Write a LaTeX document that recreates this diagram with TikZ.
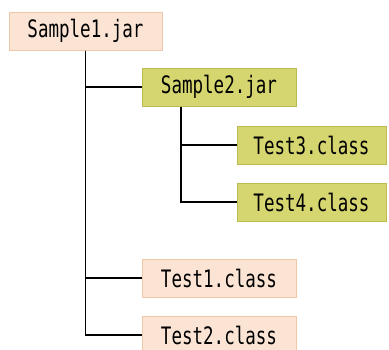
\documentclass[tikz,border=0pt]{standalone}
\usepackage{fontspec}
\newfontfamily\treefont[FakeStretch=0.73]{DejaVu Sans Mono}
\usepackage{xcolor}
\usepackage{tikz}
\definecolor{filetan}{RGB}{251,228,212}
\definecolor{filetanline}{RGB}{240,200,168}
\definecolor{jargreen}{RGB}{214,214,112}
\definecolor{jargreenline}{RGB}{188,188,78}

\begin{document}
\begin{tikzpicture}[
    x=1pt, y=-1pt,
    box/.style={rectangle, line width=1pt, minimum height=38pt, inner sep=0pt, font=\treefont\fontsize{24}{26}\selectfont},
    tanbox/.style={box, draw=filetanline, fill=filetan},
    greenbox/.style={box, draw=jargreenline, fill=jargreen},
    branch/.style={line width=1.3pt, black}
]
    \useasboundingbox (0,0) rectangle (389,349);
    \clip (0,0) rectangle (389,349);

    \node[tanbox, minimum width=153pt] (sample1) at (85.5,31) {Sample1.jar};
    \node[greenbox, minimum width=154pt] (sample2) at (219,87) {Sample2.jar};
    \node[greenbox, minimum width=149pt] (test3) at (311.5,145) {Test3.class};
    \node[greenbox, minimum width=149pt] (test4) at (311.5,202) {Test4.class};
    \node[tanbox, minimum width=154pt] (test1) at (219,278) {Test1.class};
    \node[tanbox, minimum width=154pt] (test2) at (219,335) {Test2.class};

    \coordinate (sample2root) at ([xshift=-38pt]sample2.south);

    \draw[branch] (sample1.south) |- (sample2.west);
    \draw[branch] (sample1.south) |- (test1.west);
    \draw[branch] (sample1.south) |- (test2.west);
    \draw[branch] (sample2root) |- (test3.west);
    \draw[branch] (sample2root) |- (test4.west);
\end{tikzpicture}
\end{document}
